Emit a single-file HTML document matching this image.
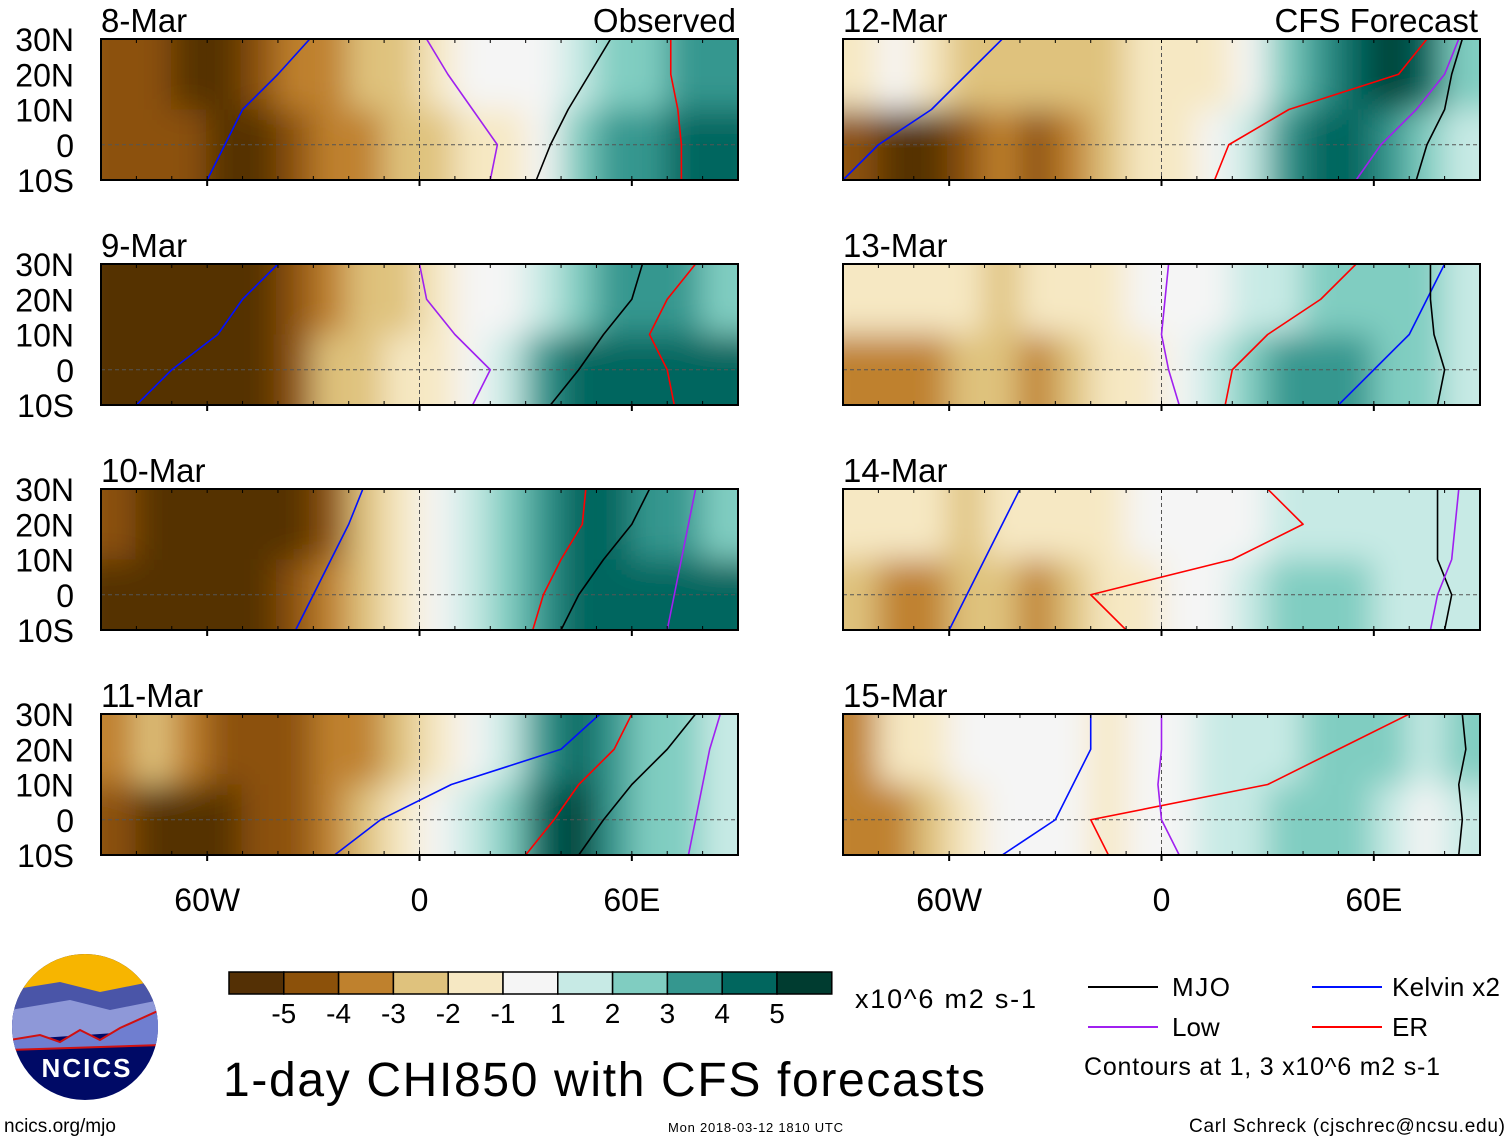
<!DOCTYPE html>
<html><head><meta charset="utf-8"><style>
body{margin:0;background:#fff;width:1510px;height:1142px;overflow:hidden}
svg text{font-family:"Liberation Sans",Arial,sans-serif;fill:#000}
</style></head><body>
<svg id="root" width="1510" height="1142" viewBox="0 0 1510 1142" xmlns="http://www.w3.org/2000/svg">
<defs>
<filter id="blur" x="-10%" y="-20%" width="120%" height="140%"><feGaussianBlur stdDeviation="16"/></filter>
</defs>
<g id="panels"></g>
<g id="bottom">
 <g>
  <clipPath id="lc"><circle cx="85" cy="1027" r="73"/></clipPath>
  <g clip-path="url(#lc)">
   <rect x="10" y="950" width="150" height="160" fill="#000a66"/>
   <rect x="10" y="950" width="150" height="45" fill="#f7b500"/>
   <path d="M10 990 L60 982 L100 992 L160 980 L160 1020 L10 1030Z" fill="#4a55a8"/>
   <path d="M10 1010 L70 1000 L110 1010 L160 1000 L160 1030 L10 1040Z" fill="#8e98d8"/>
   <path d="M10 1040 L40 1035 L60 1042 L80 1030 L100 1040 L120 1028 L160 1010 L160 1045 L10 1050Z" fill="#6f7ed0" stroke="#d01010" stroke-width="2"/>
  </g>
  <text x="87" y="1077" text-anchor="middle" font-size="26" font-weight="bold" style="fill:#fff" letter-spacing="2">NCICS</text>
 </g>
 <g id="cbar"></g>
 <text x="855" y="1008" font-size="27" textLength="181">x10^6 m2 s-1</text>
 <text x="223" y="1096" font-size="48" textLength="762">1-day CHI850 with CFS forecasts</text>
 <g font-size="26">
  <line x1="1088" y1="987" x2="1158" y2="987" stroke="#000" stroke-width="2"/><text x="1172" y="996" textLength="58">MJO</text>
  <line x1="1312" y1="987" x2="1382" y2="987" stroke="#0010ff" stroke-width="2"/><text x="1392" y="996" textLength="108">Kelvin x2</text>
  <line x1="1088" y1="1027" x2="1158" y2="1027" stroke="#a020f0" stroke-width="2"/><text x="1172" y="1036">Low</text>
  <line x1="1312" y1="1027" x2="1382" y2="1027" stroke="#ff0000" stroke-width="2"/><text x="1392" y="1036">ER</text>
  <text x="1084" y="1075" font-size="25" textLength="356">Contours at 1, 3 x10^6 m2 s-1</text>
 </g>
 <text x="4" y="1132" font-size="19">ncics.org/mjo</text>
 <text x="668" y="1132" font-size="13" textLength="175">Mon 2018-03-12 1810 UTC</text>
 <text x="1505" y="1132" font-size="19" text-anchor="end" textLength="316">Carl Schreck (cjschrec@ncsu.edu)</text>
</g>
</svg>
<script>
const colors=["#543005","#8c510a","#bf812d","#dfc27d","#f6e8c3","#f5f5f5","#c7eae5","#80cdc1","#35978f","#01665e","#003c30"];
const cbarLabels=["-5","-4","-3","-2","-1","1","2","3","4","5"];
const dates=["8-Mar","9-Mar","10-Mar","11-Mar","12-Mar","13-Mar","14-Mar","15-Mar"];
const latTicks=["30N","20N","10N","0","10S"];
const lonTicks=[["60W",-60],["0",0],["60E",60]];
// anomaly values per 10° lon cell (90W..90E), north band (30N-10N) and south band (10N-10S)
const north=[
[-4,-4,-5,-5,-4,-3,-3,-2,-2,-1,0,0,0,1,2,2,3,3],
[-5,-5,-5,-5,-5,-4,-3,-2,-2,-1,0,0,1,2,3,3,3,2],
[-4,-5,-5,-5,-5,-5,-4,-2,-1,0,1,2,3,4,4,3,3,2],
[-3,-2,-3,-4,-4,-4,-3,-3,-2,-1,0,1,3,4,3,2,2,1],
[-1,0,-1,-2,-2,-2,-2,-2,-1,-1,-1,0,2,3,4,5,4,2],
[-1,-1,-1,-1,-2,-1,-1,-1,0,0,0,1,1,2,2,2,2,1],
[-1,-1,-1,-2,-1,-1,-1,-1,0,0,0,0,1,1,1,1,1,1],
[-3,-1,-1,0,0,0,0,-1,0,0,1,1,1,2,2,2,1,2]];
const south=[
[-4,-4,-4,-5,-5,-4,-3,-3,-2,-2,-1,-1,0,2,3,3,4,4],
[-5,-5,-5,-5,-5,-4,-2,-2,-1,-1,0,1,3,4,4,4,4,4],
[-5,-5,-5,-5,-5,-4,-3,-2,-1,0,1,2,3,4,4,4,4,4],
[-4,-5,-5,-5,-4,-4,-3,-2,-1,0,1,2,4,5,3,2,2,1],
[-4,-5,-5,-4,-3,-4,-3,-2,-1,-1,0,1,3,4,4,3,2,1],
[-3,-3,-3,-2,-2,-3,-2,-1,-1,0,1,2,3,3,3,2,2,1],
[-2,-3,-3,-2,-2,-3,-2,-1,-1,0,0,1,2,2,2,1,1,1],
[-3,-3,-2,-1,0,0,0,-1,0,0,1,1,2,2,2,1,0,1]];
// contour line longitudes at latitudes 30N,20N,10N,0,10S
const lineLats=[30,20,10,0,-10];
const kelvinLon=[[-31,-40,-50,-55,-60],[-40,-50,-57,-70,-80],[-16,-20,-25,-30,-35],[51,40,9,-11,-24],[-45,-55,-65,-80,-90],[80,75,70,60,50],[-40,-45,-50,-55,-60],[-20,-20,-25,-30,-45]];
const mjoLon=[[54,48,42,37,33],[63,60,52,45,37],[65,60,52,45,40],[78,70,60,52,45],[85,82,80,75,72],[76,76,77,80,78],[78,78,78,82,80],[85,86,84,85,84]];
const erLon=[[71,71,73,74,74],[78,70,65,70,72],[47,46,40,35,32],[60,55,45,38,30],[75,67,36,19,15],[55,45,30,20,18],[30,40,20,-20,-10],[70,50,30,-20,-15]];
const lowLon=[[2,8,15,22,20],[0,2,10,20,15],[78,76,74,72,70],[85,82,80,78,76],[84,80,72,62,55],[2,1,0,2,5],[84,83,82,78,76],[0,0,-1,0,5]];
const NS="http://www.w3.org/2000/svg";
function mk(t,a,p){const e=document.createElementNS(NS,t);for(const k in a)e.setAttribute(k,a[k]);p.appendChild(e);return e;}
function col(v){if(v<=-5)return colors[0];if(v>=5)return colors[10];return colors[v+5];}
const PW=637,PH=141,colX=[101,843],rowY=[39,264,489,714];
const panels=document.getElementById('panels');
dates.forEach((d,i)=>{
  const px=colX[i<4?0:1],py=rowY[i%4];
  const xs=lon=>px+(lon+90)/180*PW, ys=lat=>py+(30-lat)/40*PH;
  const g=mk('g',{},panels);
  
  
  const cid='c'+i;
  const cp=mk('clipPath',{id:cid},g);mk('rect',{x:px,y:py,width:PW,height:PH},cp);
  const inner=mk('g',{'clip-path':'url(#'+cid+')'},g);
  const fg=mk('g',{filter:'url(#blur)'},inner);
  for(let j=0;j<18;j++){
    const x0=xs(-90+j*10)-1,x1=xs(-80+j*10)+1;
    const ex0=j==0?30:0, ex1=j==17?30:0;
    const rn=mk('rect',{x:x0-ex0,y:py-40,width:x1-x0+ex0+ex1,height:ys(10)-py+40,fill:col(north[i][j])},fg);
    
    
    const rs=mk('rect',{x:x0-ex0,y:ys(10),width:x1-x0+ex0+ex1,height:ys(-10)-ys(10)+40,fill:col(south[i][j])},fg);
    
    
  }
  mk('line',{x1:px,x2:px+PW,y1:ys(0),y2:ys(0),stroke:'#555','stroke-dasharray':'4,3','stroke-width':1},inner);
  mk('line',{x1:xs(0),x2:xs(0),y1:py,y2:py+PH,stroke:'#555','stroke-dasharray':'4,3','stroke-width':1},inner);
  [[kelvinLon,'#0010ff','kelvin-contour'],[mjoLon,'#000','mjo-contour'],[erLon,'#ff0000','er-contour'],[lowLon,'#a020f0','low-contour']].forEach(s=>{
    const pts=s[0][i].map((lon,k)=>xs(lon)+','+ys(lineLats[k])).join(' ');
    const pl=mk('polyline',{points:pts,fill:'none',stroke:s[1],'stroke-width':1.6,'stroke-linejoin':'round'},inner);
    
    
  });
  mk('rect',{x:px,y:py,width:PW,height:PH,fill:'none',stroke:'#000','stroke-width':2},g);
  for(let l=-90;l<=90;l+=10){mk('line',{x1:xs(l),x2:xs(l),y1:py,y2:py+4,stroke:'#000'},g);mk('line',{x1:xs(l),x2:xs(l),y1:py+PH,y2:py+PH-4,stroke:'#000'},g);}
  lonTicks.forEach(t=>mk('line',{x1:xs(t[1]),x2:xs(t[1]),y1:py+PH,y2:py+PH+6,stroke:'#000','stroke-width':2},g));
  const tt=mk('text',{x:px,y:py-7,'font-size':33},g);tt.textContent=d;
  if(i==0||i==4){const t2=mk('text',{x:px+PW-2,y:py-7,'font-size':33,'text-anchor':'end'},g);t2.textContent=i==0?'Observed':'CFS Forecast';}
  if(i<4)latTicks.forEach((l,k)=>{const t=mk('text',{x:74,y:py+k*PH/4+12,'font-size':32,'text-anchor':'end'},g);t.textContent=l;});
  if(i%4==3)lonTicks.forEach(t=>{const e=mk('text',{x:xs(t[1]),y:911,'font-size':32,'text-anchor':'middle'},g);e.textContent=t[0];});
});
const cb=document.getElementById('cbar');
colors.forEach((c,k)=>{const r=mk('rect',{x:229+k*54.8,y:972,width:54.8,height:22,fill:c,stroke:'#000','stroke-width':1.5},cb);
  
  });
cbarLabels.forEach((l,k)=>{const t=mk('text',{x:229+(k+1)*54.8,y:1023,'font-size':28,'text-anchor':'middle'},cb);t.textContent=l;});
</script>
</body></html>
